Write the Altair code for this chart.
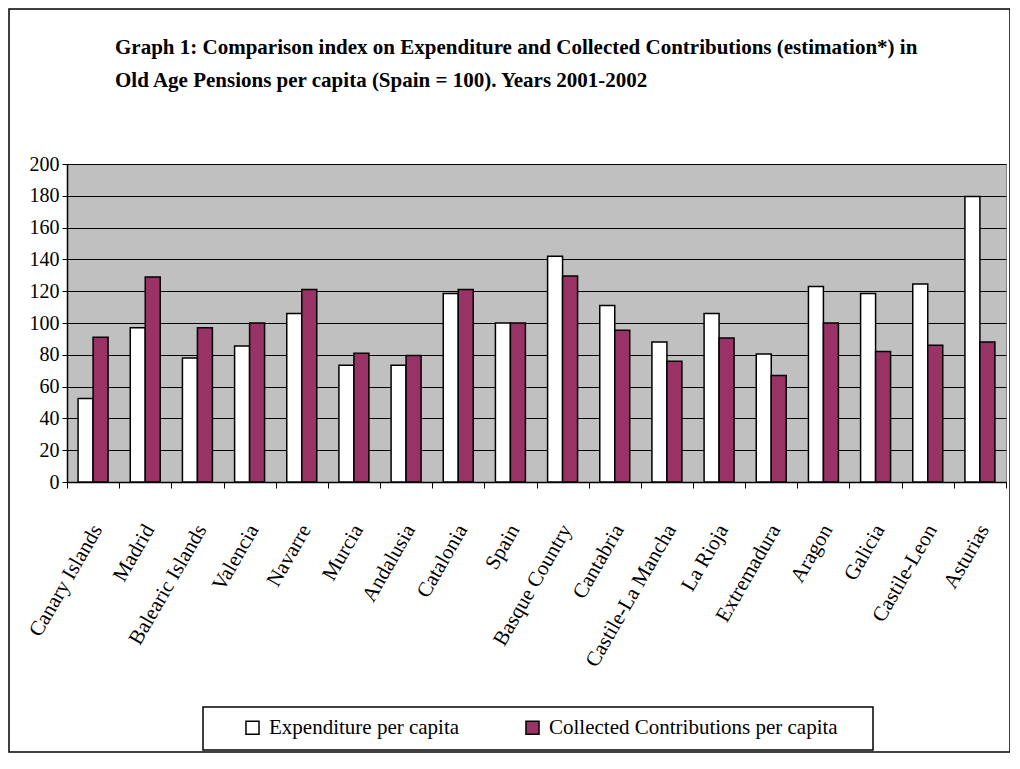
import altair as alt
import pandas as pd

regions = ["Canary Islands", "Madrid", "Balearic Islands", "Valencia", "Navarre",
           "Murcia", "Andalusia", "Catalonia", "Spain", "Basque Country", "Cantabria",
           "Castile-La Mancha", "La Rioja", "Extremadura", "Aragon", "Galicia",
           "Castile-Leon", "Asturias"]
expenditure = [52.5, 97, 78, 85.5, 106, 73.5, 73.5, 118.5, 100, 142, 111, 88, 106,
               80.5, 123, 118.5, 124.5, 179.5]
contributions = [91, 129, 97, 100, 121, 81, 79.5, 121, 100, 129.5, 95.5, 76, 90.5,
                 67, 100, 82, 86, 88]
series = ["Expenditure per capita", "Collected Contributions per capita"]
colors = ["#FFFFFF", "#993366"]
y_ticks = list(range(0, 201, 20))
title_lines = [
    "Graph 1: Comparison index on Expenditure and Collected Contributions (estimation*) in",
    "Old Age Pensions per capita (Spain = 100). Years 2001-2002",
]

rows = []
for r, e, c in zip(regions, expenditure, contributions):
    rows.append({"region": r, "series": series[0], "value": e})
    rows.append({"region": r, "series": series[1], "value": c})
df = pd.DataFrame(rows)

SERIF = "Liberation Serif"

bars = alt.Chart(df).mark_bar(stroke="black", strokeWidth=1.5).encode(
    x=alt.X("region:N", sort=regions,
            scale=alt.Scale(paddingInner=0, paddingOuter=0),
            axis=alt.Axis(title=None, labelAngle=-60, labelAlign="right",
                          labelBaseline="middle", labelFont=SERIF, labelFontSize=21,
                          labelColor="black", tickBand="extent", tickColor="black",
                          tickSize=6, domainColor="black", domainWidth=1.5,
                          labelPadding=38, labelOffset=4, labelLimit=300)),
    xOffset=alt.XOffset("series:N", sort=series,
                        scale=alt.Scale(paddingOuter=0.74, paddingInner=0)),
    y=alt.Y("value:Q", scale=alt.Scale(domain=[0, 200]),
            axis=alt.Axis(values=y_ticks, title=None, grid=True, gridColor="black",
                          gridWidth=1, gridOpacity=1, labelFont=SERIF, labelFontSize=20,
                          labelColor="black", tickColor="black", tickSize=5,
                          domainColor="black", domainWidth=1.5, labelPadding=3)),
    color=alt.Color("series:N", sort=series,
                    scale=alt.Scale(domain=series, range=colors),
                    legend=alt.Legend(title=None, orient="none", direction="horizontal",
                                      legendX=175, legendY=553, symbolType="square",
                                      symbolSize=170, symbolStrokeColor="black",
                                      symbolStrokeWidth=1.5, labelFont=SERIF,
                                      labelFontSize=21, labelColor="black",
                                      labelOffset=6, columnPadding=62, padding=0,
                                      labelLimit=400)),
)

deco = pd.DataFrame({"k": [0]})
frame = alt.Chart(deco).mark_rect(filled=False, stroke="black", strokeWidth=1.5).encode(
    x=alt.value(-58), x2=alt.value(943), y=alt.value(-155), y2=alt.value(588))
legend_box = alt.Chart(deco).mark_rect(filled=False, stroke="black", strokeWidth=1.5).encode(
    x=alt.value(136), x2=alt.value(806), y=alt.value(543), y2=alt.value(586))

chart = alt.layer(bars, frame, legend_box).properties(
    width=939, height=318,
    padding={"left": 59, "top": 156, "right": 4, "bottom": 271},
    autosize=alt.AutoSizeParams(type="none"),
    title=alt.TitleParams(text=title_lines, font=SERIF, fontSize=21, fontWeight="bold",
                          anchor="start", frame="group", dx=48, offset=-83,
                          lineHeight=33, color="black"),
).configure_view(fill="#C0C0C0", stroke="#808080")

chart.save("out.html", embed_options={"renderer": "svg", "actions": False})
